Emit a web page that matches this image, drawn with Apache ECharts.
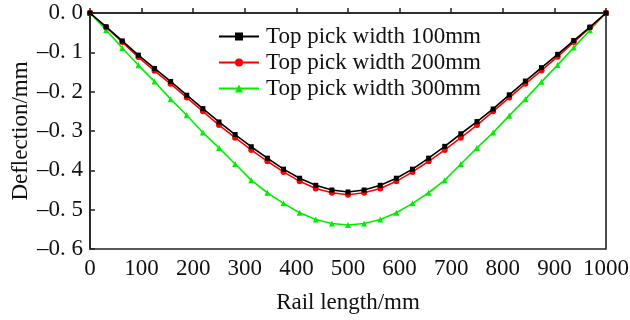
<!DOCTYPE html>
<html><head><meta charset="utf-8">
<script src="https://cdn.jsdelivr.net/npm/echarts@6/dist/echarts.min.js"></script>
<style>html,body{margin:0;padding:0;background:#fff}#c{width:630px;height:320px}</style>
</head><body><div id="c"></div>
<script>
const xs = [0, 31.25, 62.5, 93.75, 125, 156.25, 187.5, 218.75, 250, 281.25, 312.5, 343.75, 375, 406.25, 437.5, 468.75, 500,
  531.25, 562.5, 593.75, 625, 656.25, 687.5, 718.75, 750, 781.25, 812.5, 843.75, 875, 906.25, 937.5, 968.75, 1000];
const w100 = [0, -0.035, -0.071, -0.107, -0.141, -0.174, -0.209, -0.243, -0.277, -0.309, -0.340, -0.369, -0.397, -0.420, -0.438, -0.450, -0.455,
  -0.450, -0.438, -0.420, -0.397, -0.369, -0.339, -0.307, -0.276, -0.244, -0.208, -0.173, -0.139, -0.105, -0.070, -0.036, 0];
const w200 = [0, -0.036, -0.074, -0.112, -0.147, -0.180, -0.215, -0.250, -0.285, -0.317, -0.348, -0.377, -0.404, -0.428, -0.446, -0.457, -0.462,
  -0.457, -0.446, -0.428, -0.404, -0.377, -0.348, -0.317, -0.285, -0.250, -0.215, -0.180, -0.146, -0.111, -0.074, -0.037, 0];
const w300 = [0, -0.043, -0.089, -0.133, -0.174, -0.219, -0.260, -0.304, -0.343, -0.384, -0.425, -0.457, -0.484, -0.508, -0.525, -0.535, -0.539,
  -0.535, -0.525, -0.508, -0.484, -0.457, -0.425, -0.384, -0.343, -0.304, -0.261, -0.219, -0.175, -0.132, -0.088, -0.044, 0];
const names = ['Top pick width 100mm', 'Top pick width 200mm', 'Top pick width 300mm'];
const xTitle = 'Rail length/mm';
const yTitle = 'Deflection/mm';

const font = 'Liberation Serif, Times New Roman, serif';
const fs = 23;
const pair = arr => xs.map((x, i) => [x, arr[i]]);
const chart = echarts.init(document.getElementById('c'), null, {renderer: 'canvas'});
const axisCol = '#222';
chart.setOption({
  animation: false,
  grid: {left: 90, right: 24, top: 13, bottom: 71, outerBoundsMode: 'none', containLabel: false,
         show: true, borderColor: axisCol, borderWidth: 1.6, backgroundColor: 'transparent'},
  legend: {
    left: 218, top: 25, padding: 0, orient: 'vertical', itemWidth: 40, itemHeight: 10, itemGap: 3,
    data: names,
    textStyle: {fontFamily: font, fontSize: fs, color: '#111', lineHeight: 23, padding: [0, 0, 0, 2]}
  },
  xAxis: {
    type: 'value', min: 0, max: 1000, interval: 100,
    name: xTitle, nameLocation: 'middle', nameGap: 42,
    nameTextStyle: {fontFamily: font, fontSize: fs, color: '#111'},
    axisLine: {lineStyle: {color: axisCol, width: 1.6}},
    axisTick: {inside: true, length: 5, lineStyle: {color: axisCol, width: 1.5}},
    axisLabel: {fontFamily: font, fontSize: fs, color: '#111', margin: 8, formatter: v => String(v)},
    splitLine: {show: false}
  },
  yAxis: {
    type: 'value', min: -0.6, max: 0, interval: 0.1,
    name: yTitle, nameLocation: 'middle', nameGap: 58, nameMoveOverlap: false,
    nameTextStyle: {fontFamily: font, fontSize: fs, color: '#111'},
    axisLine: {lineStyle: {color: axisCol, width: 1.6}},
    axisTick: {inside: true, length: 5, lineStyle: {color: axisCol, width: 1.5}},
    axisLabel: {fontFamily: font, fontSize: fs, color: '#111', margin: 7,
      formatter: v => { const s = Math.abs(v).toFixed(1).replace('.', '. '); return (v < -1e-9 ? '\u2013' : '') + s; }},
    splitLine: {show: false}
  },
  series: [
    {name: names[0], type: 'line', data: pair(w100), symbol: 'rect', symbolSize: 5, z: 5,
     lineStyle: {color: '#000', width: 1.6}, itemStyle: {color: '#000'}},
    {name: names[1], type: 'line', data: pair(w200), symbol: 'circle', symbolSize: 6, z: 4,
     lineStyle: {color: '#ff0000', width: 1.6}, itemStyle: {color: '#ff0000'}},
    {name: names[2], type: 'line', data: pair(w300), symbol: 'triangle', symbolSize: 6, z: 3,
     lineStyle: {color: '#00ee00', width: 1.6}, itemStyle: {color: '#00ee00'}}
  ]
});
</script></body></html>
